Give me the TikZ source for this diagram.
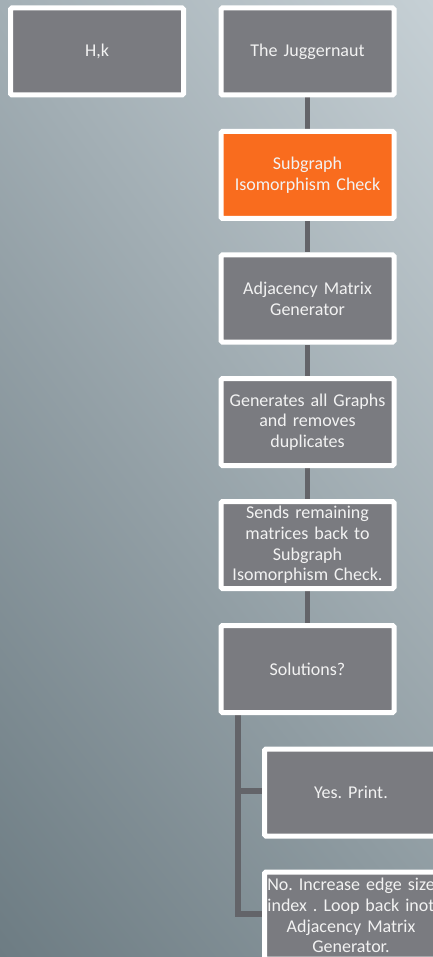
\documentclass[tikz,border=0pt]{standalone}
\usepackage{fontspec}
\setmainfont{Carlito}
\usetikzlibrary{shadings,backgrounds}
\begin{document}
\begin{tikzpicture}[x=1pt,y=-1pt,
  stepbox/.style={draw=white, line width=5pt, fill=boxgrey, rounded corners=1.5pt,
    minimum width=173pt, minimum height=87pt, text width=168pt, align=center,
    inner sep=0pt, text=textwhite, font=\fontsize{18}{20.7}\selectfont\frenchspacing},
  hotbox/.style={stepbox, fill=hotorange},
  link/.style={draw=linkgrey, line width=5pt},
  branch/.style={draw=linkgrey, line width=6pt, line join=miter}]
\definecolor{boxgrey}{HTML}{7A7B80}
\definecolor{hotorange}{HTML}{F96C1E}
\definecolor{linkgrey}{HTML}{636469}
\definecolor{textwhite}{HTML}{F2F2F2}
\definecolor{bgUL}{HTML}{A3AFB5}
\definecolor{bgUR}{HTML}{C6D0D5}
\definecolor{bgLL}{HTML}{6D7C83}
\definecolor{bgLR}{HTML}{8C999F}
\useasboundingbox (0,0) rectangle (433,957);

% boxes
\node[stepbox] (hk)   at (97,51.5)    {H,k};
\node[stepbox] (jug)  at (307.5,51.5) {The Juggernaut};
\node[hotbox]  (sub)  at (307.5,175) {Subgraph\\Isomorphism Check};
\node[stepbox] (adj)  at (307.5,298.5) {Adjacency Matrix\\Generator};
\node[stepbox] (gen)  at (307.5,422) {Generates all Graphs\\and removes\\duplicates};
\node[stepbox] (send) at (307.5,545) {Sends remaining\\matrices back to\\Subgraph\\Isomorphism Check.};
\node[stepbox] (sol)  at (307.5,669) {Solutions?};
\node[stepbox] (yes)  at (351,792.5)  {Yes. Print.};
\node[stepbox] (no)   at (351,915.5)  {No. Increase edge size\\index . Loop back inot\\Adjacency Matrix\\Generator.};

\begin{scope}[on background layer]
  % backdrop
  \shade[upper left=bgUL, upper right=bgUR, lower left=bgLL, lower right=bgLR]
    (0,0) rectangle (433,957);
  % vertical links
  \path[link] (jug.south) -- (sub.north);
  \path[link] (sub.south) -- (adj.north);
  \path[link] (adj.south) -- (gen.north);
  \path[link] (gen.south) -- (send.north);
  \path[link] (send.south) -- (sol.north);
  % branch to the two outcomes
  \coordinate (trunk) at (238,714);
  \path[branch] (trunk) -- (238,914) -- (no.west |- 0,914);
  \path[branch] (238,791) -- (yes.west |- 0,791);
\end{scope}
\end{tikzpicture}
\end{document}
